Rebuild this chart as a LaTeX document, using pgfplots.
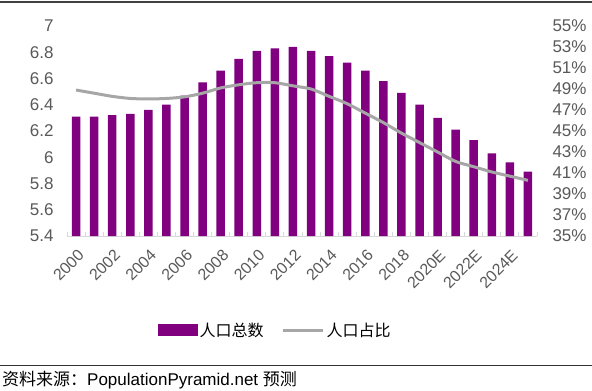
\documentclass[border=0pt]{standalone}
\usepackage{fontspec}
\setmainfont{Liberation Sans}
\newfontfamily\cjk{Noto Sans CJK SC}
\usepackage{pgfplots}
\pgfplotsset{compat=1.18}
\definecolor{barpurple}{HTML}{800080}
\definecolor{linegray}{HTML}{A6A6A6}
\definecolor{ticktext}{HTML}{595959}
\definecolor{axgray}{HTML}{D9D9D9}
\begin{document}
\begin{tikzpicture}[x=1pt,y=1pt]
\path[use as bounding box] (0,0) rectangle (592,391);
\draw[line width=1.5pt, color=black!75] (0,389) -- (592,389);
\draw[line width=0.8pt, color=black!80] (0,26) -- (592,26);
\begin{axis}[at={(67pt,155pt)}, anchor=south west, scale only axis,
  width=470pt, height=210pt,
  xmin=-0.5, xmax=25.5, ymin=5.4, ymax=7,
  axis x line*=bottom, axis y line*=left,
  y axis line style={draw=none},
  x axis line style={draw=axgray, line width=1pt, -},
  ytick={5.4,5.6,5.8,6,6.2,6.4,6.6,6.8,7},
  yticklabels={5.4,5.6,5.8,6,6.2,6.4,6.6,6.8,7},
  major y tick style={draw=none},
  yticklabel style={font=\fontsize{17}{20}\selectfont, text=ticktext, anchor=east, xshift=-10pt},
  xtick={0,2,...,24},
  xticklabels={2000,2002,2004,2006,2008,2010,2012,2014,2016,2018,2020E,2022E,2024E},
  major x tick style={draw=none},
  minor xtick={-0.5,0.5,...,25.5},
  minor x tick style={draw=axgray, line width=1pt},
  minor tick length=4pt,
  xtick pos=bottom, tick align=inside,
  xticklabel style={font=\fontsize{16}{19}\selectfont, text=ticktext, yshift=-11pt, xshift=1pt, rotate=45, anchor=north east, inner sep=1pt},
  /pgf/number format/assume math mode=true,
  legend style={at={(0.443,-0.448)}, anchor=center, draw=none, legend columns=2,
    font=\cjk\fontsize{16}{19}\selectfont, text=black,
    /tikz/every even column/.append style={column sep=16pt}},
]
\addplot[ybar, bar width=8.5pt, fill=barpurple, draw=none,
  legend image code/.code={\fill[barpurple] (0pt,-6pt) rectangle (40pt,6pt);}]
  coordinates {
  (0,6.31) (1,6.31) (2,6.32) (3,6.33) (4,6.36) (5,6.40) (6,6.47) (7,6.57)
  (8,6.66) (9,6.75) (10,6.81) (11,6.83) (12,6.84) (13,6.81) (14,6.77)
  (15,6.72) (16,6.66) (17,6.58) (18,6.49) (19,6.40) (20,6.30) (21,6.21)
  (22,6.13) (23,6.03) (24,5.96) (25,5.89)};
\addlegendentry{人口总数}
\addlegendimage{linegray, line width=3pt, legend image code/.code={\draw[linegray, line width=3pt] (0pt,0pt) -- (40pt,0pt);}}
\addlegendentry{人口占比}
\end{axis}
\begin{axis}[at={(67pt,155pt)}, anchor=south west, scale only axis,
  width=470pt, height=210pt,
  xmin=-0.5, xmax=25.5, ymin=35, ymax=55,
  axis x line=none, axis y line*=right,
  y axis line style={draw=none},
  ytick={35,37,39,41,43,45,47,49,51,53,55},
  yticklabels={35\%,37\%,39\%,41\%,43\%,45\%,47\%,49\%,51\%,53\%,55\%},
  major y tick style={draw=none},
  yticklabel style={font=\fontsize{17}{20}\selectfont, text=ticktext, anchor=west, xshift=12pt},
  clip=false,
]
\addplot[linegray, line width=3pt, smooth] coordinates {
  (0,48.9) (1,48.6) (2,48.3) (3,48.1) (4,48.05) (5,48.1) (6,48.25) (7,48.6)
  (8,49.1) (9,49.4) (10,49.6) (11,49.6) (12,49.3) (13,49.0) (14,48.3)
  (15,47.6) (16,46.7) (17,45.8) (18,44.8) (19,43.9) (20,43.0) (21,42.1)
  (22,41.6) (23,41.1) (24,40.7) (25,40.3)};
\end{axis}
\node[anchor=west, inner sep=0pt] at (2,11) {\fontsize{17}{20}\selectfont{\cjk 资料来源：}PopulationPyramid.net {\cjk 预测}};
\end{tikzpicture}
\end{document}
